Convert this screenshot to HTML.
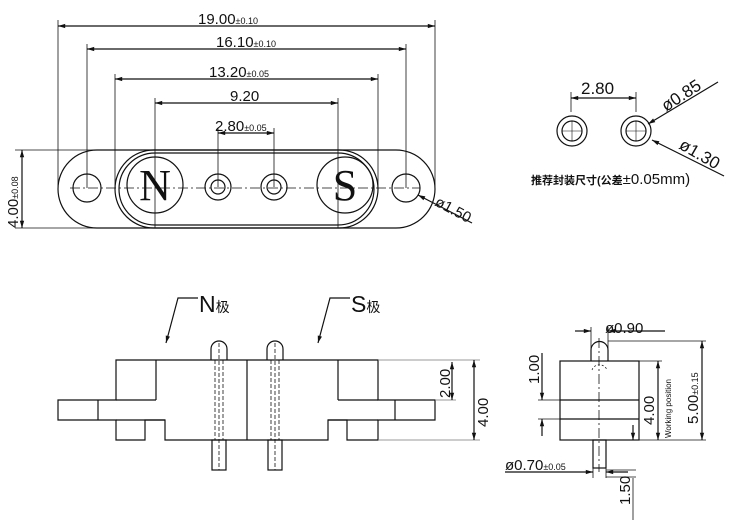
<!DOCTYPE html>
<html><head><meta charset="utf-8"><style>
html,body{margin:0;padding:0;background:#fff}
svg{display:block}
text{font-family:"Liberation Sans","Noto Sans CJK SC",sans-serif;fill:#111}
text.serif{font-family:"Liberation Serif",serif}
</style></head><body>
<svg width="744" height="530" viewBox="0 0 744 530" xmlns="http://www.w3.org/2000/svg">
<defs>
<marker id="a" viewBox="0 0 10 10" refX="10" refY="5" markerWidth="8" markerHeight="6" orient="auto-start-reverse"><path d="M0,2 L10,5 L0,8 z" fill="#111"/></marker>
</defs>
<g stroke="#111" stroke-width="1.2" fill="none">
<rect x="58" y="150" width="377" height="78" rx="39"/>
<rect x="115" y="150" width="263" height="78" rx="39"/>
<rect x="119" y="153" width="255" height="72" rx="36"/>
<circle cx="87" cy="188" r="14"/>
<circle cx="406" cy="188" r="14"/>
<circle cx="155" cy="185" r="28"/>
<circle cx="345" cy="185" r="28"/>
<circle cx="218" cy="187" r="13"/><circle cx="218" cy="187" r="7"/>
<circle cx="274" cy="187" r="13"/><circle cx="274" cy="187" r="7"/>
<line x1="70" y1="188" x2="420" y2="188" stroke-dasharray="10,3,2,3" stroke-width="0.8"/>
<g stroke-width="0.8">
<line x1="58" y1="20" x2="58" y2="188"/><line x1="435" y1="20" x2="435" y2="188"/>
<line x1="87" y1="44" x2="87" y2="188"/><line x1="406" y1="44" x2="406" y2="188"/>
<line x1="115" y1="74" x2="115" y2="188"/><line x1="378" y1="74" x2="378" y2="188"/>
<line x1="155" y1="98" x2="155" y2="228"/><line x1="338" y1="98" x2="338" y2="228"/>
<line x1="218" y1="128" x2="218" y2="187"/><line x1="274" y1="128" x2="274" y2="187"/>
<line x1="15" y1="150" x2="115" y2="150"/><line x1="15" y1="228" x2="115" y2="228"/>
</g>
<line x1="58" y1="26" x2="435" y2="26" marker-start="url(#a)" marker-end="url(#a)"/>
<line x1="87" y1="49" x2="406" y2="49" marker-start="url(#a)" marker-end="url(#a)"/>
<line x1="115" y1="79" x2="378" y2="79" marker-start="url(#a)" marker-end="url(#a)"/>
<line x1="155" y1="103" x2="338" y2="103" marker-start="url(#a)" marker-end="url(#a)"/>
<line x1="218" y1="133" x2="274" y2="133" marker-start="url(#a)" marker-end="url(#a)"/>
<line x1="22" y1="150" x2="22" y2="228" marker-start="url(#a)" marker-end="url(#a)"/>
<line x1="418" y1="195" x2="472" y2="223" marker-start="url(#a)"/>
<path d="M116,400 V360 H378 V400 H435 V420 H378 V440 H347 V420 H328 V440 H165 V420 H145 V440 H116 V420 H58 V400 Z"/>
<line x1="156" y1="360" x2="156" y2="400"/><line x1="116" y1="400" x2="156" y2="400"/>
<line x1="338" y1="360" x2="338" y2="400"/><line x1="338" y1="400" x2="378" y2="400"/>
<line x1="98" y1="400" x2="98" y2="420"/><line x1="395" y1="400" x2="395" y2="420"/>
<line x1="116" y1="420" x2="165" y2="420"/><line x1="328" y1="420" x2="378" y2="420"/>
<line x1="247" y1="360" x2="247" y2="440"/>
<path d="M211,360 V349 A8,8 0 0 1 227,349 V360"/>
<path d="M267,360 V349 A8,8 0 0 1 283,349 V360"/>
<rect x="212" y="440" width="14" height="30"/>
<rect x="268" y="440" width="14" height="30"/>
<g stroke-width="0.8" stroke-dasharray="4,2"><line x1="219" y1="343" x2="219" y2="470"/><line x1="275" y1="343" x2="275" y2="470"/><line x1="215" y1="360" x2="215" y2="440"/><line x1="223" y1="360" x2="223" y2="440"/><line x1="271" y1="360" x2="271" y2="440"/><line x1="279" y1="360" x2="279" y2="440"/></g>
<path d="M198,298 H178 L166,343" marker-end="url(#a)"/>
<path d="M350,298 H330 L318,343" marker-end="url(#a)"/>
<g stroke-width="0.8" stroke="#777"><line x1="378" y1="360" x2="480" y2="360"/><line x1="378" y1="440" x2="480" y2="440"/><line x1="435" y1="400" x2="456" y2="400"/></g>
<line x1="452" y1="362" x2="452" y2="400" marker-start="url(#a)" marker-end="url(#a)"/>
<line x1="474" y1="360" x2="474" y2="440" marker-start="url(#a)" marker-end="url(#a)"/>
<rect x="560" y="361" width="79" height="79"/>
<line x1="560" y1="400" x2="639" y2="400"/><line x1="560" y1="419" x2="639" y2="419"/>
<path d="M591,361 V350 A8.5,8.5 0 0 1 608,350 V361"/>
<rect x="593" y="440" width="13" height="28"/>
<line x1="599" y1="338" x2="599" y2="472" stroke-width="0.8" stroke-dasharray="10,3,2,3"/>
<path d="M592,370 A8,8 0 0 1 607,370" stroke-width="0.7" stroke-dasharray="2,2"/>
<line x1="575" y1="331" x2="591" y2="331" marker-end="url(#a)"/>
<line x1="665" y1="331" x2="608" y2="331" marker-end="url(#a)"/>
<g stroke-width="0.8"><line x1="591" y1="327" x2="591" y2="350"/><line x1="608" y1="327" x2="608" y2="350"/>
<line x1="608" y1="341" x2="706" y2="341"/><line x1="639" y1="440" x2="706" y2="440"/><line x1="639" y1="361" x2="662" y2="361"/>
<line x1="538" y1="400" x2="560" y2="400"/><line x1="538" y1="419" x2="560" y2="419"/>
<line x1="593" y1="468" x2="593" y2="478"/><line x1="606" y1="468" x2="606" y2="478"/>
<line x1="606" y1="470" x2="636" y2="470"/><line x1="606" y1="477" x2="636" y2="477"/></g>
<line x1="702" y1="341" x2="702" y2="440" marker-start="url(#a)" marker-end="url(#a)"/>
<line x1="658" y1="361" x2="658" y2="440" marker-start="url(#a)" marker-end="url(#a)"/>
<line x1="542" y1="353" x2="542" y2="400" marker-end="url(#a)"/>
<line x1="542" y1="436" x2="542" y2="419" marker-end="url(#a)"/>
<line x1="633" y1="425" x2="633" y2="440" marker-end="url(#a)"/>
<line x1="505" y1="472" x2="593" y2="472" marker-end="url(#a)"/>
<line x1="628" y1="472" x2="606" y2="472" marker-end="url(#a)"/>
<line x1="633" y1="478" x2="633" y2="520" stroke-width="0.8"/>
<circle cx="572" cy="131" r="15"/><circle cx="572" cy="131" r="10"/>
<circle cx="636" cy="131" r="15"/><circle cx="636" cy="131" r="10"/>
<g stroke-width="0.6"><line x1="562" y1="131" x2="582" y2="131"/><line x1="572" y1="121" x2="572" y2="141"/><line x1="626" y1="131" x2="646" y2="131"/><line x1="636" y1="121" x2="636" y2="141"/></g>
<g stroke-width="0.8"><line x1="571" y1="92" x2="571" y2="112"/><line x1="636" y1="92" x2="636" y2="112"/></g>
<line x1="571" y1="98" x2="636" y2="98" marker-start="url(#a)" marker-end="url(#a)"/>
<line x1="718" y1="82" x2="648" y2="124" marker-end="url(#a)"/>
<line x1="724" y1="176" x2="652" y2="140" marker-end="url(#a)"/>
</g>
<g font-size="15">
<text x="198" y="24">19.00<tspan font-size="9">±0.10</tspan></text>
<text x="216" y="47">16.10<tspan font-size="9">±0.10</tspan></text>
<text x="209" y="77">13.20<tspan font-size="9">±0.05</tspan></text>
<text x="230" y="101">9.20</text>
<text x="215" y="131">2.80<tspan font-size="9">±0.05</tspan></text>
<text transform="translate(18,228) rotate(-90)">4.00<tspan font-size="9">±0.08</tspan></text>
<text transform="translate(434,205) rotate(28)">ø1.50</text>
</g>
<text class="serif" x="155" y="200" font-size="44" text-anchor="middle">N</text>
<text class="serif" x="345" y="200" font-size="44" text-anchor="middle">S</text>
<text x="199" y="312" font-size="23">N<tspan font-size="14">极</tspan></text>
<text x="351" y="312" font-size="23">S<tspan font-size="14">极</tspan></text>
<g font-size="15">
<text transform="translate(450,398) rotate(-90)">2.00</text>
<text transform="translate(488,427) rotate(-90)">4.00</text>
<text x="605" y="333">ø0.90</text>
<text transform="translate(539,384) rotate(-90)">1.00</text>
<text transform="translate(654,425) rotate(-90)">4.00</text>
<text transform="translate(698,424) rotate(-90)">5.00<tspan font-size="9">±0.15</tspan></text>
<text x="505" y="470">ø0.70<tspan font-size="9">±0.05</tspan></text>
<text transform="translate(630,505) rotate(-90)">1.50</text>
<text x="581" y="94" font-size="17">2.80</text>
<text transform="translate(666,112) rotate(-33)" font-size="17">ø0.85</text>
<text transform="translate(678,148) rotate(30)" font-size="17">ø1.30</text>
</g>
<text transform="translate(671,438) rotate(-90)" font-size="8">Working position</text>
<text x="531" y="184" font-size="11" font-weight="bold">推荐封装尺寸(公差<tspan font-weight="normal" font-size="15">±0.05mm)</tspan></text>
</svg>
</body></html>
